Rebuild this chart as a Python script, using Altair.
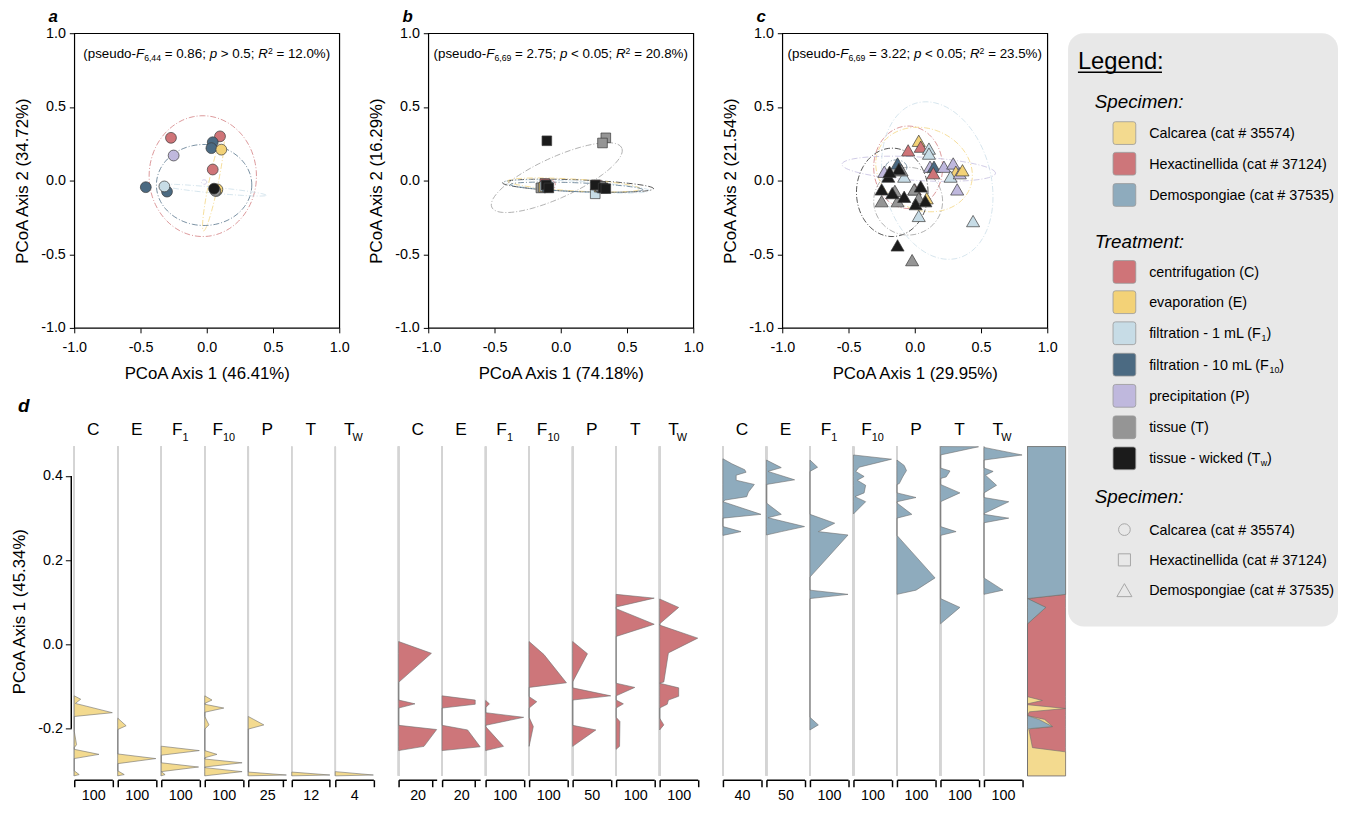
import altair as alt
import pandas as pd
import numpy as np

FONT = "Liberation Sans"
NARROW = 1.0

# ---------------- palettes ----------------
TREAT_CODES = ["C", "E", "F1", "F10", "P", "T", "Tw"]
TREAT_COLORS = ["#cf7478", "#f3d277", "#c7dce6", "#4b6a82", "#bfb8dd", "#959595", "#1b1b1b"]
SPEC_NAMES = ["Calcarea (cat # 35574)", "Hexactinellida (cat # 37124)", "Demospongiae (cat # 37535)"]
SPEC_COLORS = ["#f3da8f", "#cd767a", "#8eabbd"]
TCOL = dict(zip(TREAT_CODES, TREAT_COLORS))

# ---------------- panel a (Calcarea, circles) ----------------
A_TREAT = ["C", "P", "F10", "F10", "F1", "C", "F10", "F10", "E", "C", "F1", "E", "T", "Tw"]
A_X = [-0.27, -0.25, -0.46, -0.30, -0.32, 0.10, 0.045, 0.035, 0.11, 0.045, 0.075, 0.08, 0.065, 0.055]
A_Y = [0.29, 0.17, -0.045, -0.075, -0.04, 0.30, 0.26, 0.22, 0.21, 0.075, -0.07, -0.06, -0.07, -0.055]
A_ELL_T = ["C", "F10", "F1", "E", "P"]
A_ELL_CX = [-0.03, -0.02, 0.05, 0.05, -0.02]
A_ELL_CY = [0.03, -0.03, -0.065, -0.02, -0.01]
A_ELL_A = [0.405, 0.36, 0.40, 0.33, 0.02]
A_ELL_B = [0.41, 0.275, 0.02, 0.035, 0.015]
A_ELL_ANG = [0, 0, -5, 77, 0]

# ---------------- panel b (Hexactinellida, squares) ----------------
B_TREAT = ["T", "C", "E", "F1", "P", "F10", "Tw", "Tw", "Tw", "T", "T", "F1", "C", "E", "P", "F10", "T", "Tw", "Tw", "Tw"]
B_X = [-0.15, -0.12, -0.13, -0.12, -0.11, -0.10, -0.11, -0.09, -0.105, 0.34, 0.315, 0.26, 0.27, 0.29, 0.30, 0.31, 0.30, 0.26, 0.32, 0.34]
B_Y = [-0.05, -0.02, -0.045, -0.04, -0.03, -0.045, -0.03, -0.05, 0.27, 0.29, 0.255, -0.09, -0.03, -0.045, -0.04, -0.05, -0.04, -0.03, -0.05, -0.055]
B_ELL_T = ["T", "Tw", "F1", "E", "F10", "C"]
B_ELL_CX = [-0.03, 0.13, 0.12, 0.10, 0.12, -0.10]
B_ELL_CY = [0.02, -0.035, -0.04, -0.03, -0.045, -0.03]
B_ELL_A = [0.53, 0.57, 0.55, 0.50, 0.50, 0.06]
B_ELL_B = [0.14, 0.04, 0.035, 0.04, 0.03, 0.04]
B_ELL_ANG = [22, -2, -3, -3, -2, 0]

# ---------------- panel c (Demospongiae, triangles) ----------------
C_TREAT = ["C", "E", "C", "F1", "F1", "P", "F10", "C", "P", "P", "E", "F1", "P", "E", "P", "F1", "F1",
           "P", "F10", "F1", "E", "C",
           "T", "T", "T", "T", "T", "T", "T",
           "Tw", "Tw", "Tw", "Tw", "Tw", "Tw", "Tw", "Tw", "Tw", "Tw"]
C_X = [-0.05, 0.03, 0.045, 0.107, 0.107, 0.115, 0.145, 0.14, 0.22, 0.29, 0.31, 0.27, 0.34, 0.36, 0.32, 0.44, 0.03,
       -0.23, -0.13, -0.08, 0.09, 0.0,
       -0.25, -0.13, -0.02, -0.005, 0.03, -0.15, -0.10,
       -0.13, -0.12, -0.20, -0.25, -0.17, -0.08, 0.045, 0.007, 0.08, -0.19]
C_Y = [0.205, 0.27, 0.23, 0.217, 0.183, 0.094, 0.094, 0.05, 0.094, 0.116, 0.06, 0.027, 0.05, 0.07, -0.06, -0.275, -0.24,
       0.06, 0.116, 0.027, -0.12, -0.06,
       -0.14, -0.14, -0.54, -0.06, -0.12, -0.07, 0.07,
       -0.44, 0.08, 0.027, -0.06, -0.085, -0.11, -0.04, -0.16, -0.14, 0.06]
C_ELL_T = ["F1", "C", "E", "P", "Tw", "T", "F10"]
C_ELL_CX = [0.17, -0.05, 0.07, 0.03, -0.17, -0.05, -0.14]
C_ELL_CY = [0.0, 0.09, 0.075, 0.08, -0.08, -0.14, 0.09]
C_ELL_A = [0.55, 0.26, 0.37, 0.58, 0.27, 0.26, 0.08]
C_ELL_B = [0.40, 0.28, 0.28, 0.08, 0.30, 0.23, 0.05]
C_ELL_ANG = [-70, 0, -15, -3, 0, 0, 0]

# ---------------- panel d : density outlines (PCoA axis 1 value, width) ----------------
CAL_C = [(-0.122, 0), (-0.130, 17), (-0.140, 3), (-0.162, 100), (-0.171, 0), (-0.206, 0), (-0.238, 6), (-0.245, 0),
         (-0.249, 0), (-0.261, 65), (-0.271, 0), (-0.300, 0), (-0.309, 13), (-0.312, 0)]
CAL_E = [(-0.175, 0), (-0.193, 22), (-0.202, 0), (-0.260, 0), (-0.271, 100), (-0.283, 0), (-0.300, 0), (-0.309, 17), (-0.312, 0)]
CAL_F1 = [(-0.2416, 0), (-0.252, 100), (-0.263, 0), (-0.281, 0), (-0.291, 98), (-0.302, 0), (-0.309, 10), (-0.312, 0)]
CAL_F10 = [(-0.122, 0), (-0.132, 19), (-0.140, 0), (-0.142, 0), (-0.151, 50), (-0.161, 0), (-0.171, 0), (-0.191, 11),
           (-0.201, 0), (-0.252, 0), (-0.261, 32), (-0.269, 0), (-0.272, 0), (-0.281, 98), (-0.291, 0), (-0.2925, 0),
           (-0.302, 98), (-0.312, 0)]
CAL_P = [(-0.171, 0), (-0.191, 11.2), (-0.201, 0), (-0.303, 0), (-0.310, 27.4), (-0.312, 0)]
CAL_T = [(-0.303, 0), (-0.310, 12.3), (-0.312, 0)]
CAL_TW = [(-0.302, 0), (-0.310, 4), (-0.312, 0)]

HEX_C = [(0.007, 0), (-0.021, 19.4), (-0.090, 0), (-0.132, 0), (-0.141, 9.7), (-0.151, 0), (-0.192, 0), (-0.202, 22.5),
         (-0.242, 15), (-0.252, 0)]
HEX_E = [(-0.122, 0), (-0.132, 20), (-0.142, 20), (-0.151, 0), (-0.192, 0), (-0.203, 15.4), (-0.243, 23), (-0.252, 0)]
HEX_F1 = [(-0.133, 0), (-0.141, 10), (-0.150, 0), (-0.162, 0), (-0.173, 100), (-0.192, 0), (-0.195, 0), (-0.242, 47), (-0.252, 0)]
HEX_F10 = [(0.007, 0), (-0.024, 39), (-0.091, 98), (-0.102, 0), (-0.124, 0), (-0.136, 20), (-0.151, 0), (-0.173, 0),
           (-0.195, 11), (-0.242, 0)]
HEX_P = [(0.007, 0), (-0.022, 19.5), (-0.089, 0), (-0.103, 0), (-0.122, 50), (-0.132, 0), (-0.192, 0), (-0.203, 30.5), (-0.242, 0)]
HEX_T = [(0.119, 0), (0.110, 100), (0.089, 0), (0.085, 0), (0.048, 100), (0.019, 0), (-0.092, 0), (-0.102, 49), (-0.122, 0),
         (-0.132, 0), (-0.141, 19), (-0.151, 0), (-0.173, 0), (-0.183, 10), (-0.242, 9), (-0.249, 0)]
HEX_TW = [(0.108, 0), (0.088, 50), (0.049, 0), (0.046, 0), (0.015, 100), (-0.020, 23), (-0.089, 11), (-0.092, 0),
          (-0.103, 50), (-0.123, 50), (-0.132, 23), (-0.142, 20), (-0.151, 0), (-0.175, 0), (-0.191, 11), (-0.203, 0)]

DEM_C = [(0.441, 0), (0.429, 9.4), (0.415, 22.9), (0.409, 24.3), (0.402, 13.9), (0.390, 13.9), (0.380, 33), (0.362, 26.8),
         (0.351, 25), (0.343, 2.4), (0.339, 0), (0.309, 40), (0.300, 0), (0.280, 0), (0.268, 19), (0.259, 0)]
DEM_E = [(0.438, 0), (0.420, 19.5), (0.411, 2), (0.391, 37), (0.380, 0), (0.336, 0), (0.309, 19.5), (0.301, 2), (0.280, 50),
         (0.268, 19.5), (0.260, 0)]
DEM_F1 = [(0.438, 0), (0.421, 20), (0.411, 0), (0.309, 0), (0.288, 65), (0.268, 22), (0.260, 100), (0.160, 0), (0.129, 0),
          (0.119, 100), (0.109, 0), (-0.173, 0), (-0.191, 22), (-0.203, 0)]
DEM_F10 = [(0.450, 0), (0.440, 100), (0.421, 15), (0.411, 6), (0.399, 28), (0.390, 10), (0.378, 32), (0.360, 28), (0.351, 4),
           (0.339, 32), (0.310, 0)]
DEM_P = [(0.438, 0), (0.425, 19), (0.413, 25), (0.398, 15), (0.382, 6), (0.380, 0), (0.360, 0), (0.349, 50), (0.339, 0),
         (0.336, 0), (0.309, 39), (0.300, 0), (0.259, 0), (0.158, 100), (0.129, 50), (0.119, 0)]
DEM_T = [(0.470, 0), (0.4695, 100), (0.450, 0), (0.419, 0), (0.412, 25), (0.398, 15), (0.394, 0), (0.380, 0), (0.360, 51),
         (0.339, 0), (0.280, 0), (0.268, 41), (0.259, 0), (0.109, 0), (0.088, 51), (0.049, 0)]
DEM_TW = [(0.468, 0), (0.450, 100), (0.438, 0), (0.419, 0), (0.411, 24), (0.402, 4), (0.378, 33), (0.360, 0), (0.349, 0),
          (0.339, 65), (0.311, 0), (0.309, 0), (0.300, 65), (0.289, 0), (0.158, 0), (0.129, 50), (0.119, 0)]

# stacked proportion column: (PCoA1, blue end, blue+yellow end) in %
PROP_Y = [0.470, 0.119, 0.109, 0.088, 0.049, -0.124, -0.133, -0.141, -0.143, -0.152, -0.160, -0.169, -0.178, -0.195,
          -0.200, -0.203, -0.245, -0.255, -0.312]
PROP_BLUE = [100, 100, 0, 48, 0, 0, 0, 0, 0, 0, 0, 0, 30, 65, 4, 0, 0, 0, 0]
PROP_BY = [100, 100, 0, 48, 0, 0, 39, 0, 0, 100, 5, 0, 45, 66, 10, 4, 13, 100, 100]

HEADERS = [("C", ""), ("E", ""), ("F", "1"), ("F", "10"), ("P", ""), ("T", ""), ("T", "W")]
CAL_LABELS = [100, 100, 100, 100, 25, 12, 4]
CAL_DMAX = [100, 100, 100, 100, 27.4, 12.3, 4]
HEX_LABELS = [20, 20, 100, 100, 50, 100, 100]
HEX_DMAX = [22.5, 23, 100, 100, 50, 100, 100]
DEM_LABELS = [40, 50, 100, 100, 100, 100, 100]
DEM_DMAX = [40, 50, 100, 100, 100, 100, 100]

# ---------------- text helpers ----------------
AW = {' ': 278, '(': 333, ')': 333, '-': 333, '.': 278, ',': 278, ';': 278, ':': 278, '#': 556, '%': 889,
      '=': 584, '<': 584, '>': 584}
AW.update({d: 556 for d in "0123456789"})
AW.update(dict(zip("abcdefghijklmnopqrstuvwxyz",
                   [556, 556, 500, 556, 556, 278, 556, 556, 222, 222, 500, 222, 833, 556, 556, 556, 556, 333, 500, 278,
                    556, 500, 722, 500, 500, 500])))
AW.update(dict(zip("ABCDEFGHIJKLMNOPQRSTUVWXYZ",
                   [667, 667, 722, 722, 667, 611, 778, 722, 278, 500, 667, 556, 833, 722, 778, 667, 778, 722, 667, 611,
                    722, 667, 944, 667, 667, 611])))


def tw(s, size):
    return sum(AW.get(ch, 556) for ch in s) / 1000.0 * size * NARROW


def segs_layout(segs, size, sub_scale=0.65):
    """returns (text_stripped, style, fontsize, x_offset, dy) per segment; leading blanks become offset."""
    out, cur = [], 0.0
    for txt, st in segs:
        fs = size * sub_scale if st in ("sub", "sup") else size
        dy = 4 if st == "sub" else (-6 if st == "sup" else 0)
        lead = len(txt) - len(txt.lstrip(" "))
        out.append((txt.strip(" "), st, fs, cur + tw(" " * lead, fs), dy))
        cur += tw(txt, fs)
    return out, cur


HYPHEN = "replace(datum.label, '\u2212', '-')"
AX = dict(labelFont=FONT, titleFont=FONT, labelFontSize=14.5, titleFontSize=17, titleFontWeight="normal",
          labelColor="black", titleColor="black", tickColor="black", grid=False)


def ellipse_df(ts, cx, cy, a, b, ang):
    rows = []
    t = np.linspace(0, 2 * np.pi, 91)
    for k in range(len(ts)):
        th = np.deg2rad(ang[k])
        xs = cx[k] + a[k] * np.cos(th) * np.cos(t) - b[k] * np.sin(th) * np.sin(t)
        ys = cy[k] + a[k] * np.sin(th) * np.cos(t) + b[k] * np.cos(th) * np.sin(t)
        for i in range(len(t)):
            rows.append({"eid": k, "i": i, "x": xs[i], "y": ys[i], "col": TCOL[ts[k]]})
    return pd.DataFrame(rows)


def scatter(treat, xs, ys, ell, shape, size, letter, stats, xtitle, ytitle):
    pts = pd.DataFrame({"treat": treat, "x": xs, "y": ys})
    pts["col"] = pts["treat"].map(TCOL)
    sx = alt.Scale(domain=[-1, 1], nice=False, zero=False)
    sy = alt.Scale(domain=[-1, 1], nice=False, zero=False)
    vals = [-1, -0.5, 0, 0.5, 1]
    xax = alt.Axis(values=vals, format=".1f", labelExpr=HYPHEN, title=xtitle, domain=False, tickSize=5,
                   titlePadding=12, labelPadding=8, labelFlush=False, **AX)
    yax = alt.Axis(values=vals, format=".1f", labelExpr=HYPHEN, title=ytitle, domain=False, tickSize=5,
                   titlePadding=9, labelPadding=4, labelFlush=False, **AX)
    edf = ellipse_df(*ell)
    lines = alt.Chart(edf).mark_line(strokeWidth=1, strokeDash=[6, 2, 1, 2], opacity=0.75).encode(
        x=alt.X("x:Q", scale=sx, axis=xax), y=alt.Y("y:Q", scale=sy, axis=yax),
        color=alt.Color("col:N", scale=None), detail="eid:N", order="i:Q")
    points = alt.Chart(pts).mark_point(filled=True, shape=shape, size=size, stroke="#3a3a3a", strokeWidth=0.7,
                                       opacity=1).encode(
        x=alt.X("x:Q", scale=sx), y=alt.Y("y:Q", scale=sy), fill=alt.Fill("col:N", scale=None))
    f1, f2, pv, r2 = stats
    segs = [("(pseudo-", "n"), ("F", "i"), (f1, "sub"), (" = " + f2 + "; ", "n"), ("p", "i"), (" " + pv + "; ", "n"),
            ("R", "i"), ("2", "sup"), (" = " + r2 + ")", "n")]
    lay, total = segs_layout(segs, 13.5)
    layers = [lines, points]
    for txt, st, fs, off, dy in lay:
        layers.append(alt.Chart(pd.DataFrame({"t": [txt]})).mark_text(
            align="left", baseline="alphabetic", font=FONT, fontSize=fs, dx=off - total / 2, dy=dy * 0.8,
            fontStyle="italic" if st == "i" else "normal", color="black").encode(
            x=alt.datum(0, scale=sx), y=alt.datum(0.83, scale=sy), text="t:N"))
    return alt.layer(*layers).properties(
        width=268, height=298,
        view=alt.ViewBackground(stroke="black", strokeWidth=1.2),
        title=alt.TitleParams(letter, anchor="start", frame="group", dx=-26, offset=-1, font=FONT, fontSize=17,
                              fontStyle="italic", fontWeight="bold", color="black"))


YD = alt.Scale(domain=[-0.312, 0.47], nice=False, zero=False)
CW = 38.5
DH = 333
XAX_D = {k: v for k, v in AX.items() if k not in ("titleFontSize",)}


def dcol(pts, dmax, label, color, hdr, first=False, letter=None):
    df = pd.DataFrame(pts, columns=["pc1", "w"])
    sx = alt.Scale(domain=[0, dmax], nice=False, zero=True)
    xax = alt.Axis(values=[0, label], labels=False, title=str(label), tickSize=7, tickWidth=1.5, domainWidth=1.5,
                   domainColor="black", offset=4, titlePadding=1, titleFontSize=14.5, **XAX_D)
    if first:
        yax = alt.Axis(values=[-0.2, 0, 0.2, 0.4], format=".1f", labelExpr=HYPHEN, title="PCoA Axis 1 (45.34%)",
                       domain=False, offset=3, tickSize=6, titlePadding=9, labelPadding=3, **AX)
    else:
        yax = None
    rule = alt.Chart(df).mark_rule(color="#d4d4d4", strokeWidth=1.5).encode(x=alt.datum(0, scale=sx))
    area = alt.Chart(df).mark_area(orient="horizontal", color=color, stroke="#6e6e6e", strokeWidth=0.6,
                                   opacity=1).encode(
        x=alt.X("w:Q", scale=sx, axis=xax, stack=None), y=alt.Y("pc1:Q", scale=YD, axis=yax))
    layers = [rule, area]
    main, sub = hdr
    if main:
        mfs, sfs = 17.5, 11
        mw = tw(main, mfs)
        sw = tw(sub, sfs)
        cx = -sw / 2 if sub else 0
        layers.append(alt.Chart(pd.DataFrame({"t": [main]})).mark_text(
            align="center", baseline="alphabetic", font=FONT, fontSize=mfs, color="black").encode(
            x=alt.value(CW / 2 + cx), y=alt.value(-12), text="t:N"))
        if sub:
            layers.append(alt.Chart(pd.DataFrame({"t": [sub]})).mark_text(
                align="left", baseline="alphabetic", font=FONT, fontSize=sfs, color="black").encode(
                x=alt.value(CW / 2 + cx + mw / 2 - (2 if main == "T" else 0)), y=alt.value(-6), text="t:N"))
    if first:
        ax_line = alt.Chart(pd.DataFrame({"a": [0]})).mark_rule(color="black", strokeWidth=1.5).encode(
            x=alt.value(-3), y=alt.datum(-0.2, scale=YD), y2=alt.datum(0.4))
        layers.append(ax_line)
    ch = alt.layer(*layers).properties(width=CW, height=DH)
    if letter:
        ch = ch.properties(title=alt.TitleParams(letter, anchor="start", frame="group", dx=-57, offset=5, font=FONT,
                                                 fontSize=19, fontStyle="italic", fontWeight="bold", color="black"))
    return ch


def prop_col():
    # cumulative widths drawn from the left: red (everything) < yellow (blue+yellow) < blue
    parts = [("H", [100] * len(PROP_Y), SPEC_COLORS[1]), ("A", PROP_BY, SPEC_COLORS[0]), ("D", PROP_BLUE, SPEC_COLORS[2])]
    sx = alt.Scale(domain=[0, 100], nice=False)
    xax = alt.Axis(values=[0, 100], labels=False, title="100", tickSize=7, tickWidth=1.5, domainWidth=1.5,
                   domainColor="black", offset=4, titlePadding=1, titleFontSize=14.5, **XAX_D)
    layers = []
    for k, (nm, ws, col) in enumerate(parts):
        df = pd.DataFrame({"pc1": PROP_Y, "w": ws})
        layers.append(alt.Chart(df).mark_area(orient="horizontal", color=col, stroke="#6e6e6e", strokeWidth=0.6,
                                              opacity=1).encode(
            x=alt.X("w:Q", scale=sx, axis=xax if k == 0 else None, stack=None),
            y=alt.Y("pc1:Q", scale=YD, axis=None)))
    return alt.layer(*layers).properties(width=CW, height=DH)


def spacer(w):
    return alt.Chart(pd.DataFrame({"a": [0]})).mark_point(opacity=0).encode(
        x=alt.value(0), y=alt.value(0)).properties(width=w, height=DH)


def group(cols, dmaxes, labels, color, first_letter=False):
    charts = []
    for k, pts in enumerate(cols):
        charts.append(dcol(pts, dmaxes[k], labels[k], color, HEADERS[k], first=(first_letter and k == 0),
                           letter=("d" if (first_letter and k == 0) else None)))
    return charts


# ---------------- legend panel ----------------
LW, LH = 273, 600


def legend_panel():
    sx = alt.Scale(domain=[0, LW], nice=False, zero=False)
    sy = alt.Scale(domain=[0, LH], nice=False, zero=False, reverse=True)
    texts = []  # (x, y, text, size, style)
    texts.append((10, 36, "Legend:", 24, "n"))
    texts.append((27, 76, "Specimen:", 19, "i"))
    texts.append((27, 217, "Treatment:", 19, "i"))
    texts.append((27, 475, "Specimen:", 19, "i"))
    spec_y = [101, 132, 163.6]
    treat_y = [241.4, 272, 303.4, 335.2, 366.7, 398.5, 429.9]
    shape_y = [502, 532.6, 563.2]
    treat_labels = [[("centrifugation (C)", "n")], [("evaporation (E)", "n")],
                    [("filtration - 1 mL (F", "n"), ("1", "sub"), (")", "n")],
                    [("filtration - 10 mL (F", "n"), ("10", "sub"), (")", "n")],
                    [("precipitation (P)", "n")], [("tissue (T)", "n")],
                    [("tissue - wicked (T", "n"), ("w", "sub"), (")", "n")]]
    rows = []
    LFS = 14.5
    for yv, nm in zip(spec_y, SPEC_NAMES):
        rows.append((82, yv + 5, nm, LFS, "n"))
    for yv, segs in zip(treat_y, treat_labels):
        lay, _ = segs_layout(segs, LFS, sub_scale=0.62)
        for txt, st, fs, off, dy in lay:
            rows.append((82 + off, yv + 5 + (dy * 0.8), txt, fs, st))
    for yv, nm in zip(shape_y, SPEC_NAMES):
        rows.append((82, yv + 5, nm, LFS, "n"))
    rows = texts + rows
    tdf = pd.DataFrame(rows, columns=["lx", "ly", "txt", "fs", "st"])
    layers = []
    for st in ["n", "i", "sub"]:
        sub = tdf[tdf["st"] == st]
        if len(sub) == 0:
            continue
        layers.append(alt.Chart(sub).mark_text(align="left", baseline="alphabetic", font=FONT, color="black",
                                               fontStyle="italic" if st == "i" else "normal").encode(
            x=alt.X("lx:Q", scale=sx, axis=None), y=alt.Y("ly:Q", scale=sy, axis=None), text="txt:N",
            size=alt.Size("fs:Q", scale=None)))
    und = pd.DataFrame({"x0": [10], "x1": [95], "ly": [39.5]})
    layers.append(alt.Chart(und).mark_rule(color="black", strokeWidth=1.5).encode(
        x=alt.X("x0:Q", scale=sx, axis=None), x2="x1:Q", y=alt.Y("ly:Q", scale=sy, axis=None)))
    sw = pd.DataFrame({"lx": [57] * 10, "ly": spec_y + treat_y, "col": SPEC_COLORS + TREAT_COLORS})
    rsq = "M-0.78,-1 L0.78,-1 Q1,-1 1,-0.78 L1,0.78 Q1,1 0.78,1 L-0.78,1 Q-1,1 -1,0.78 L-1,-0.78 Q-1,-1 -0.78,-1 Z"
    layers.append(alt.Chart(sw).mark_point(shape=rsq, size=529, filled=True, stroke="#9a9a9a", strokeWidth=0.8,
                                           opacity=1).encode(
        x=alt.X("lx:Q", scale=sx, axis=None), y=alt.Y("ly:Q", scale=sy, axis=None),
        fill=alt.Fill("col:N", scale=None)))
    for shp, yv, sz in zip(["circle", "square", "triangle-up"], shape_y, [140, 150, 230]):
        layers.append(alt.Chart(pd.DataFrame({"lx": [57], "ly": [yv]})).mark_point(
            shape=shp, size=sz, filled=False, stroke="#8c8c8c", strokeWidth=1).encode(
            x=alt.X("lx:Q", scale=sx, axis=None), y=alt.Y("ly:Q", scale=sy, axis=None)))
    return alt.layer(*layers).properties(width=LW, height=LH,
                                         view=alt.ViewBackground(fill="#e8e8e8", cornerRadius=16,
                                                                 stroke="transparent"))


pa = scatter(A_TREAT, A_X, A_Y, (A_ELL_T, A_ELL_CX, A_ELL_CY, A_ELL_A, A_ELL_B, A_ELL_ANG), "circle", 120, "a",
             ("6,44", "0.86", "> 0.5", "12.0%"), "PCoA Axis 1 (46.41%)", "PCoA Axis 2 (34.72%)")
pb = scatter(B_TREAT, B_X, B_Y, (B_ELL_T, B_ELL_CX, B_ELL_CY, B_ELL_A, B_ELL_B, B_ELL_ANG), "square", 95, "b",
             ("6,69", "2.75", "< 0.05", "20.8%"), "PCoA Axis 1 (74.18%)", "PCoA Axis 2 (16.29%)")
pc = scatter(C_TREAT, C_X, C_Y, (C_ELL_T, C_ELL_CX, C_ELL_CY, C_ELL_A, C_ELL_B, C_ELL_ANG), "triangle-up", 175, "c",
             ("6,69", "3.22", "< 0.05", "23.5%"), "PCoA Axis 1 (29.95%)", "PCoA Axis 2 (21.54%)")

dcols = (group([CAL_C, CAL_E, CAL_F1, CAL_F10, CAL_P, CAL_T, CAL_TW], CAL_DMAX, CAL_LABELS, SPEC_COLORS[0],
               first_letter=True)
         + [spacer(14.5)]
         + group([HEX_C, HEX_E, HEX_F1, HEX_F10, HEX_P, HEX_T, HEX_TW], HEX_DMAX, HEX_LABELS, SPEC_COLORS[1])
         + [spacer(14.5)]
         + group([DEM_C, DEM_E, DEM_F1, DEM_F10, DEM_P, DEM_T, DEM_TW], DEM_DMAX, DEM_LABELS, SPEC_COLORS[2])
         + [prop_col()])

prow = alt.hconcat(*dcols, spacing=5, bounds="flush").resolve_scale(x="independent", y="independent")
top = alt.hconcat(pa, pb, pc, spacing=90, bounds="flush").resolve_scale(x="independent", y="independent")
left = alt.vconcat(top, prow, spacing=14).resolve_scale(x="independent", y="independent")
chart = alt.hconcat(left, legend_panel(), spacing=1).resolve_scale(
    x="independent", y="independent").properties(padding={"left": 3, "top": -5, "right": 0, "bottom": 0}
).configure(font=FONT).configure_view(stroke="transparent", strokeWidth=0)

chart.save("out.html", embed_options={"renderer": "svg", "actions": False})
